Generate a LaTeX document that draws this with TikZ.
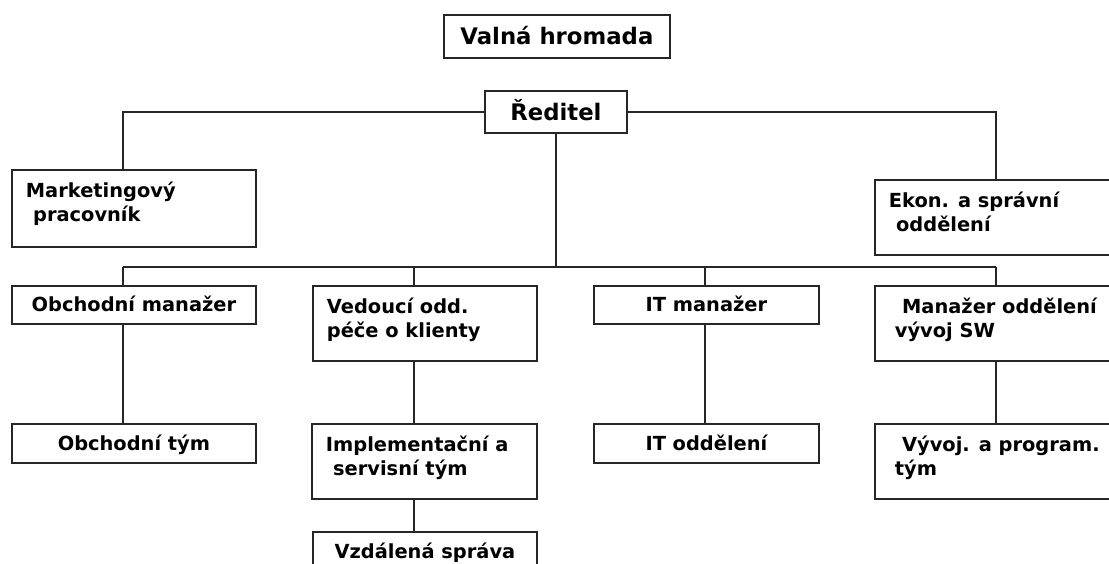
\documentclass[tikz,border=0pt]{standalone}
\usepackage{fontspec}
\setmainfont{DejaVu Sans}
\usetikzlibrary{positioning, calc}

% two-line box text, pinned to the top left of the box
\newcommand{\toptext}[4][0.35cm]{%
    \parbox[c][#3][t]{#2}{\leftskip=#1\rule{0pt}{0.68cm}#4}}

\begin{document}
\begin{tikzpicture}[
    x=0.025cm, y=-0.025cm,
    bw/.style={minimum width=#1*0.025cm},
    bh/.style={minimum height=#1*0.025cm},
    box/.style={rectangle, draw=black!85, line width=1.3pt, inner sep=0pt, anchor=north west, font=\fontsize{13.8}{17}\selectfont\bfseries},
    single/.style={box, text height=10pt, text depth=0pt},
    topbox/.style={box, font=\fontsize{16.2}{19}\selectfont\bfseries, text height=11.8pt, text depth=0pt},
    link/.style={line width=1.3pt, black!85}
]
\clip (0,0) rectangle (1109,564);

% ========== TOP ==========
\node[topbox, bw=226, bh=43] (valna) at (443,14) {Valná hromada};
\node[topbox, bw=142, bh=42] (reditel) at (484,90) {Ředitel};

% ========== STAFF ==========
\node[box] (mkt) at (11,169) {\toptext{6.1cm}{1.925cm}{Marketingový\\\hspace*{0.18cm}pracovník}};
\node[box] (ekon) at (874,179) {\toptext{6cm}{1.875cm}{Ekon. a správní\\\hspace*{0.18cm}oddělení}};

% ========== MANAGERS ==========
\node[single, bw=244, bh=38] (obman) at (11,285) {Obchodní manažer};
\node[box] (vedouci) at (312,285) {\toptext{5.6cm}{1.875cm}{Vedoucí odd.\\péče o klienty}};
\node[single, bw=225, bh=38] (itman) at (593,285) {IT manažer};
\node[box] (swman) at (874,285) {\toptext[0.5cm]{6cm}{1.875cm}{\hspace*{0.18cm}Manažer oddělení\\vývoj SW}};

% ========== TEAMS ==========
\node[single, bw=244, bh=39] (obtym) at (11,423) {Obchodní tým};
\node[box] (impl) at (311,423) {\toptext{5.625cm}{1.875cm}{Implementační a\\\hspace*{0.18cm}servisní tým}};
\node[single, bw=225, bh=39] (itodd) at (593,423) {IT oddělení};
\node[box] (vyvoj) at (874,423) {\toptext[0.5cm]{6cm}{1.875cm}{\hspace*{0.18cm}Vývoj. a program.\\tým}};
\node[single, bw=224, bh=39] (vzdal) at (312,531) {Vzdálená správa};

% bus joints
\coordinate (c1) at (123.3,267.3);
\coordinate (c2) at (414.3,267.3);
\coordinate (c3) at (705,267.3);
\coordinate (c4) at (996,267.3);

% ========== LINES ==========
% Ředitel to staff
\draw[link] (reditel.west) -| (mkt.north -| c1);
\draw[link] (reditel.east) -| (ekon.north -| c4);

% Ředitel to the bus
\draw[link] (reditel.south) -- (reditel.south |- c1);
\draw[link] (c1) -- (c4);

% bus to managers
\draw[link] (c1) -- (obman.north -| c1);
\draw[link] (c2) -- (vedouci.north -| c2);
\draw[link] (c3) -- (itman.north -| c3);
\draw[link] (c4) -- (swman.north -| c4);

% managers to teams
\draw[link] (obman.south -| c1) -- (obtym.north -| c1);
\draw[link] (vedouci.south -| c2) -- (impl.north -| c2);
\draw[link] (impl.south -| c2) -- (vzdal.north -| c2);
\draw[link] (itman.south -| c3) -- (itodd.north -| c3);
\draw[link] (swman.south -| c4) -- (vyvoj.north -| c4);

\end{tikzpicture}
\end{document}
